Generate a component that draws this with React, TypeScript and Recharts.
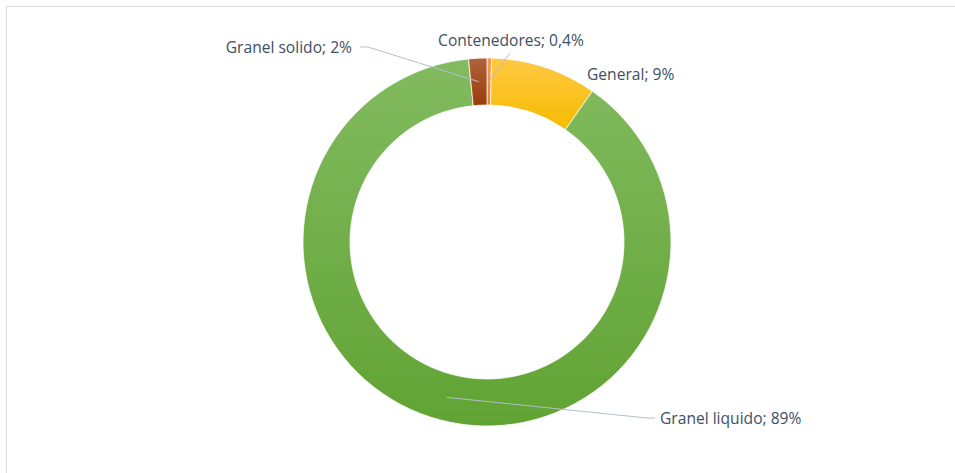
import { PieChart, Pie, Cell } from 'recharts';

const categories = ['Contenedores', 'General', 'Granel liquido', 'Granel solido'];
const shares = [0.4, 9.3, 88.7, 1.6];
const labelTexts = ['0,4%', '9%', '89%', '2%'];

const fills = ['url(#gOrange)', 'url(#gYellow)', 'url(#gGreen)', 'url(#gBrown)'];

// label placement relative to the centre, and whether a leader line is drawn
const labelLayout = [
  { dx: 24, dy: -202, anchor: 'middle', line: [[23, -189]] },
  { dx: 100, dy: -168, anchor: 'start', line: null },
  { dx: 173, dy: 176, anchor: 'start', line: [[168, 176], [160, 176]] },
  { dx: -135, dy: -195, anchor: 'end', line: [[-127, -195], [-119, -195]] },
];

const data = categories.map((name, i) => ({ name, value: shares[i], text: labelTexts[i] }));

const RAD = Math.PI / 180;

function renderLabel(props: any) {
  const { cx, cy, midAngle, innerRadius, outerRadius, index } = props;
  const lay = labelLayout[index];
  const r = (innerRadius + outerRadius) / 2;
  const ax = cx + r * Math.cos(-midAngle * RAD);
  const ay = cy + r * Math.sin(-midAngle * RAD);
  const pts = lay.line ? [...lay.line.map(([x, y]) => `${cx + x},${cy + y}`), `${ax},${ay}`].join(' ') : null;
  return (
    <g key={index}>
      {pts && <polyline points={pts} fill="none" stroke="#b4bfcc" strokeWidth={1} />}
      <text
        x={cx + lay.dx}
        y={cy + lay.dy}
        textAnchor={lay.anchor as any}
        dominantBaseline="central"
        fill="#404f63"
        fontSize={15.6}
        fontFamily="'Open Sans', sans-serif"
      >
        {`${data[index].name}; ${data[index].text}`}
      </text>
    </g>
  );
}

export default function App() {
  return (
    <div style={{ position: 'absolute', left: 0, top: 0, width: 955, height: 473, background: '#fff' }}>
      <svg width={0} height={0} style={{ position: 'absolute' }}>
        <defs>
          <linearGradient id="gGreen" x1="0" y1="0" x2="0" y2="1">
            <stop offset="0%" stopColor="#82bb60" />
            <stop offset="100%" stopColor="#61a333" />
          </linearGradient>
          <linearGradient id="gYellow" x1="0" y1="0" x2="0" y2="1">
            <stop offset="0%" stopColor="#ffc844" />
            <stop offset="100%" stopColor="#f5bc00" />
          </linearGradient>
          <linearGradient id="gBrown" x1="0" y1="0" x2="0" y2="1">
            <stop offset="0%" stopColor="#b0623e" />
            <stop offset="100%" stopColor="#9a3c06" />
          </linearGradient>
          <linearGradient id="gOrange" x1="0" y1="0" x2="0" y2="1">
            <stop offset="0%" stopColor="#f59a52" />
            <stop offset="100%" stopColor="#ee7d2a" />
          </linearGradient>
        </defs>
      </svg>
      <div
        style={{
          position: 'absolute',
          left: 6,
          top: 6,
          width: 960,
          height: 480,
          borderTop: '1px solid #d9dfe6',
          borderLeft: '1px solid #d9dfe6',
        }}
      />
      <div style={{ position: 'absolute', left: 0, top: 0 }}>
        <PieChart width={955} height={473} margin={{ top: 0, right: 0, bottom: 0, left: 0 }}>
          <Pie
            data={data}
            dataKey="value"
            nameKey="name"
            cx={487}
            cy={242}
            innerRadius={137}
            outerRadius={184}
            startAngle={90}
            endAngle={-270}
            stroke="#ffffff"
            strokeWidth={0.75}
            label={renderLabel}
            labelLine={false}
            isAnimationActive={false}
          >
            {data.map((d, i) => (
              <Cell key={d.name} fill={fills[i]} />
            ))}
          </Pie>
        </PieChart>
      </div>
    </div>
  );
}
